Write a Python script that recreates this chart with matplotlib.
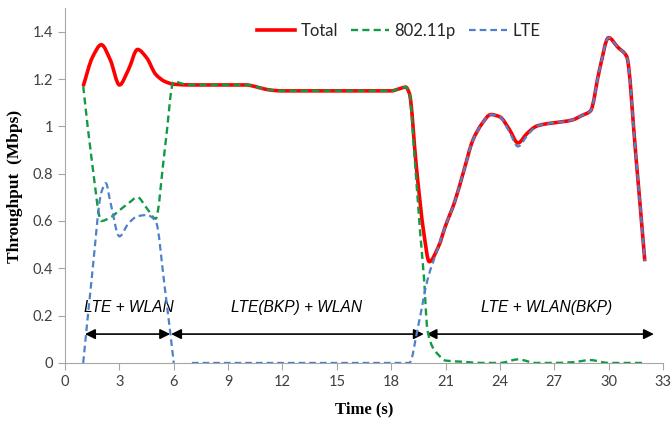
"""
吞吐量随时间变化曲线 (Total / 802.11p / LTE)
"""

import numpy as np
import matplotlib
matplotlib.use('Agg')
import matplotlib.pyplot as plt
from matplotlib.path import Path
from matplotlib.patches import PathPatch
from matplotlib.lines import Line2D

# ---- 数据 ----
t_total = [1, 1.5, 2, 2.5, 3, 3.5, 4, 4.5, 5, 5.5, 6, 7, 8, 9, 10, 10.5, 11, 11.5,
           12, 13, 14, 15, 16, 17, 18, 18.5, 18.8, 19, 19.4, 19.8, 20.1, 20.6, 21,
           21.5, 22, 22.5, 23, 23.5, 24, 24.5, 25, 25.5, 26, 26.5, 27, 28, 28.5,
           29, 29.5, 30, 30.5, 31, 31.5, 32]
total = [1.17, 1.29, 1.345, 1.28, 1.175, 1.24, 1.325, 1.29, 1.22, 1.19, 1.178,
         1.175, 1.175, 1.175, 1.175, 1.168, 1.158, 1.152, 1.15, 1.15, 1.15, 1.15,
         1.15, 1.15, 1.15, 1.16, 1.166, 1.14, 0.82, 0.55, 0.428, 0.49, 0.58,
         0.68, 0.81, 0.94, 1.01, 1.05, 1.04, 0.99, 0.93, 0.97, 1.0, 1.01, 1.015,
         1.027, 1.045, 1.065, 1.24, 1.375, 1.335, 1.295, 0.88, 0.43]

t_wlan = [1, 1.5, 2, 2.5, 3, 3.5, 4, 4.5, 5, 5.5, 6, 6.5, 7, 8, 9, 10, 10.5, 11,
          11.5, 12, 13, 14, 15, 16, 17, 18, 18.5, 18.8, 19, 19.3, 19.6, 19.8, 20,
          20.3, 20.6, 21, 22, 23, 24, 25, 26, 27, 28, 29, 30, 31, 32]
wlan = [1.17, 0.84, 0.6, 0.615, 0.645, 0.675, 0.70, 0.655, 0.61, 0.9, 1.19,
        1.18, 1.175, 1.175, 1.175, 1.175, 1.168, 1.158, 1.152, 1.15, 1.15, 1.15,
        1.15, 1.15, 1.15, 1.15, 1.16, 1.166, 1.14, 0.86, 0.55, 0.37, 0.14, 0.065,
        0.035, 0.01, 0.005, 0.0, 0.0, 0.015, 0.0, 0.0, 0.003, 0.012, 0.0, 0.0, 0.0]

t_lte = [1, 1.5, 2, 2.25, 2.5, 3, 3.5, 4, 4.5, 5, 5.5, 6, 6.5, 7, 8, 9, 10, 11,
         12, 13, 14, 15, 16, 17, 18, 19, 19.5, 20, 20.6, 21, 21.5, 22, 22.5, 23,
         23.5, 24, 24.5, 25, 25.5, 26, 26.5, 27, 28, 28.5, 29, 29.5, 30, 30.5,
         31, 31.5, 32]
lte = [0.0, 0.38, 0.72, 0.76, 0.68, 0.535, 0.59, 0.62, 0.625, 0.60, 0.32, 0.0,
       np.nan, 0.0, 0.0, 0.0, 0.0, 0.0, 0.0, 0.0, 0.0, 0.0, 0.0, 0.0, 0.0, 0.0,
       0.16, 0.35, 0.49, 0.58, 0.68, 0.81, 0.94, 1.01, 1.05, 1.04, 0.98, 0.915,
       0.96, 1.0, 1.01, 1.015, 1.027, 1.045, 1.065, 1.24, 1.375, 1.335, 1.295,
       0.88, 0.43]

# 阶段标注: (文字, x中心) 与箭头区间
phase_labels = ['LTE + WLAN', 'LTE(BKP) + WLAN', 'LTE + WLAN(BKP)']
phase_text_x = [3.5, 12.8, 26.6]
phase_spans = [(1.1, 5.8), (5.85, 19.8), (19.95, 32.5)]


def smooth_path(x, y):
    """平滑线: 数据点之间用三次贝塞尔段连接 (保形切线, NaN处断开)"""
    x = np.asarray(x, float)
    y = np.asarray(y, float)
    verts, codes = [], []
    idx = np.where(~np.isnan(y))[0]
    runs = np.split(idx, np.where(np.diff(idx) != 1)[0] + 1)
    for r in runs:
        px, py = x[r], y[r]
        h = np.diff(px)
        d = np.diff(py) / h
        m = np.zeros(len(px))
        m[0], m[-1] = d[0], d[-1]
        for k in range(1, len(px) - 1):
            if d[k - 1] * d[k] > 0:
                w1 = 2 * h[k] + h[k - 1]
                w2 = h[k] + 2 * h[k - 1]
                m[k] = (w1 + w2) / (w1 / d[k - 1] + w2 / d[k])
        verts.append((px[0], py[0]))
        codes.append(Path.MOVETO)
        for i in range(len(px) - 1):
            verts += [(px[i] + h[i] / 3, py[i] + m[i] * h[i] / 3),
                      (px[i + 1] - h[i] / 3, py[i + 1] - m[i + 1] * h[i] / 3),
                      (px[i + 1], py[i + 1])]
            codes += [Path.CURVE4] * 3
    return Path(verts, codes)


plt.rcParams['font.family'] = ['Lato', 'DejaVu Sans']

fig = plt.figure(figsize=(6.71, 4.24), dpi=100)
ax = fig.add_axes([0.097, 0.144, 0.891, 0.837])

styles = [
    (t_total, total, dict(color='#FF0000', lw=2.6, ls='-'), 'Total'),
    (t_wlan, wlan, dict(color='#129A45', lw=1.7, ls=(0, (3, 1.8))), '802.11p'),
    (t_lte, lte, dict(color='#4F81C9', lw=1.6, ls=(0, (3, 1.8))), 'LTE'),
]
handles = []
for k, (tx, ty, st, name) in enumerate(styles):
    patch = PathPatch(smooth_path(tx, ty), fill=False, edgecolor=st['color'],
                      lw=st['lw'], ls=st['ls'], capstyle='butt',
                      joinstyle='round', zorder=3 + k)
    ax.add_patch(patch)
    handles.append(Line2D([], [], color=st['color'], lw=st['lw'], ls=st['ls'],
                          label=name))

for txt, xc in zip(phase_labels, phase_text_x):
    ax.text(xc, 0.233, txt, ha='center', va='center', fontsize=11.2,
            style='italic', family='Liberation Sans', color='black')
for x0, x1 in phase_spans:
    ax.annotate('', xy=(x1, 0.122), xytext=(x0, 0.122),
                arrowprops=dict(arrowstyle='<|-|>', color='black', lw=1.2,
                                mutation_scale=15, shrinkA=0, shrinkB=0))

ax.set_xlim(0, 33)
ax.set_ylim(0, 1.5)
ax.set_xticks(range(0, 34, 3))
ax.set_yticks([0, 0.2, 0.4, 0.6, 0.8, 1.0, 1.2, 1.4])
ax.set_yticklabels(['0', '0.2', '0.4', '0.6', '0.8', '1', '1.2', '1.4'])

for s in ['top', 'right']:
    ax.spines[s].set_visible(False)
for s in ['left', 'bottom']:
    ax.spines[s].set_color('#A6A6A6')
ax.tick_params(direction='out', length=5, color='#A6A6A6',
               labelsize=10.5, labelcolor='#404040')

ax.set_xlabel('Time (s)', family='Liberation Serif', fontweight='bold',
              fontsize=12, va='center')
ax.xaxis.set_label_coords(0.5, -0.132)
ax.set_ylabel('Throughput  (Mbps)', family='Liberation Serif',
              fontweight='bold', fontsize=12.5, va='center')
ax.yaxis.set_label_coords(-0.084, 0.496)

ax.legend(handles=handles, loc='upper center', bbox_to_anchor=(0.558, 1.0),
          ncol=3, frameon=False, fontsize=12, handlelength=2.3,
          handletextpad=0.3, columnspacing=0.8, labelcolor='#262626')

plt.savefig('out.png', dpi=100)
